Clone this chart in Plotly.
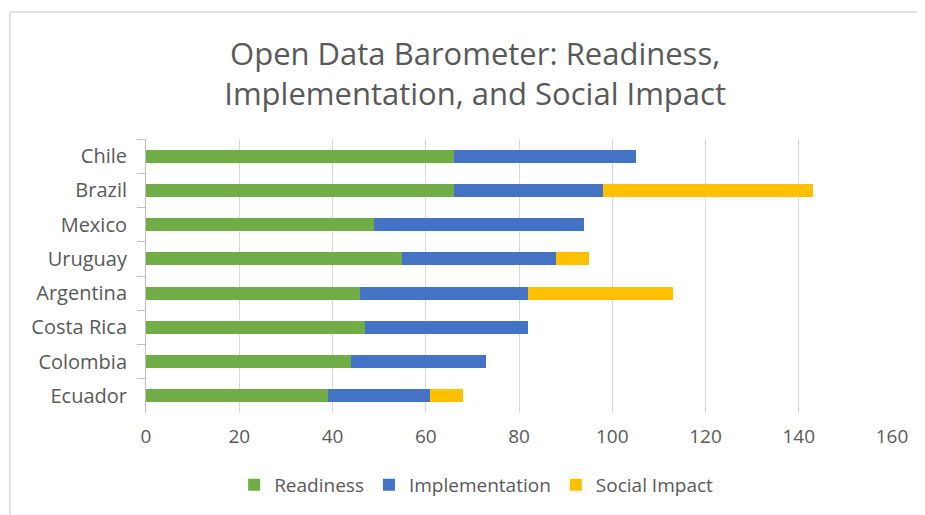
import plotly.graph_objects as go

countries = ["Chile", "Brazil", "Mexico", "Uruguay", "Argentina", "Costa Rica", "Colombia", "Ecuador"]
readiness = [66, 66, 49, 55, 46, 47, 44, 39]
implementation = [39, 32, 45, 33, 36, 35, 29, 22]
social_impact = [0, 45, 0, 7, 31, 0, 0, 7]
x_ticks = [0, 20, 40, 60, 80, 100, 120, 140, 160]

series = [
    ("Readiness", readiness, "#70AD47"),
    ("Implementation", implementation, "#4472C4"),
    ("Social Impact", social_impact, "#FFC000"),
]

fig = go.Figure()
for name, vals, color in series:
    fig.add_trace(go.Bar(
        y=countries, x=vals, name=name, orientation="h",
        marker=dict(color=color, line=dict(width=0)), width=0.38,
    ))

font_fam = "Open Sans, DejaVu Sans, sans-serif"
OFF = 8  # page body margin
W, H = 925 - OFF, 515 - OFF
L, T = 146 - OFF, 139 - OFF
PR, PB = 891.7 - OFF, 413 - OFF
R, B = W - PR, H - PB
pw = PR - L
ph = PB - T


def px(x):
    return (x - OFF - L) / pw


def py(y):
    return (PB - (y - OFF)) / ph


fig.update_layout(
    width=W, height=H,
    barmode="stack",
    margin=dict(l=L, r=R, t=T, b=B, autoexpand=False),
    paper_bgcolor="white", plot_bgcolor="white",
    font=dict(family=font_fam, color="#595959"),
    title=dict(
        text="Open Data Barometer: Readiness,<br>Implementation, and Social Impact",
        xref="paper", x=px(475), xanchor="center",
        yref="container", y=1 - 57 / H, yanchor="middle",
        font=dict(size=31, color="#595959", family=font_fam),
    ),
    xaxis=dict(
        range=[0, 160], tickvals=x_ticks, showgrid=True, gridcolor="#d9d9d9",
        gridwidth=1, zeroline=False, showline=False, ticks="",
        tickfont=dict(size=19, color="#595959"), ticklabelstandoff=10,
    ),
    yaxis=dict(
        autorange="reversed", showline=True, linecolor="#bfbfbf", linewidth=1,
        ticks="outside", tickson="boundaries", ticklen=8, tickcolor="#bfbfbf",
        showgrid=False, tickfont=dict(size=20, color="#595959"),
        ticklabelstandoff=14,
    ),
    legend=dict(
        orientation="h", xref="paper", x=px(476), xanchor="center",
        y=py(485), yanchor="middle",
        font=dict(size=19, color="#595959"), itemwidth=30,
        traceorder="normal",
    ),
)

# chart border (top and left visible)
fig.add_shape(type="line", xref="paper", yref="paper",
              x0=px(10), x1=px(940), y0=py(12), y1=py(12),
              line=dict(color="#d9d9d9", width=1.5))
fig.add_shape(type="line", xref="paper", yref="paper",
              x0=px(10), x1=px(10), y0=py(12), y1=py(530),
              line=dict(color="#d9d9d9", width=1.5))

fig.write_html("out.html")
